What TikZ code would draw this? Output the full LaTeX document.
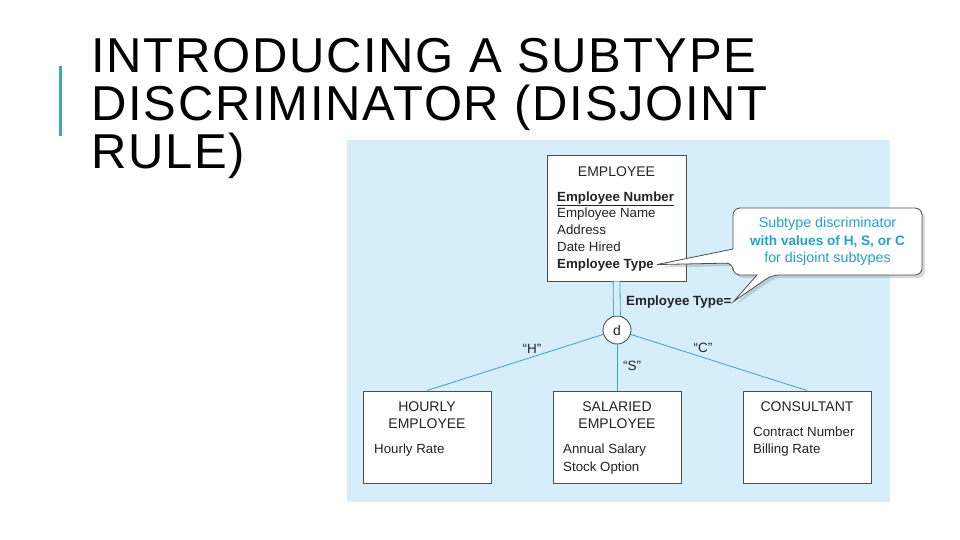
\documentclass[tikz,border=0pt]{standalone}
\usepackage{fontspec}
\setmainfont{Liberation Sans}
\newfontfamily\slidefont[LetterSpace=3.5]{Liberation Sans}
\usetikzlibrary{shadows}

\begin{document}
\begin{tikzpicture}[x=1pt,y=-1pt,
  slidetitle/.style={anchor=base west,inner sep=0pt,font=\slidefont\fontsize{49}{49}\selectfont},
  entity/.style={draw=boxline,fill=white,line width=0.9pt,inner sep=0pt},
  ename/.style={anchor=base,inner sep=0pt,font=\fontsize{14}{16}\selectfont},
  attr/.style={anchor=base west,inner sep=0pt,font=\fontsize{13.3}{15}\selectfont},
  link/.style={draw=linkblue,line width=0.8pt},
  vlabel/.style={inner sep=0pt,font=\fontsize{13.5}{15}\selectfont}]
% Define slide colours
\definecolor{accent}{RGB}{66,165,206}
\definecolor{bgblue}{RGB}{214,238,250}
\definecolor{boxline}{RGB}{75,75,80}
\definecolor{linkblue}{RGB}{62,160,200}
\definecolor{notetext}{RGB}{38,158,210}
\definecolor{ink}{RGB}{35,35,40}

\useasboundingbox[fill=white] (0,0) rectangle (960,540);

% Draw slide title
\draw[accent,line width=3pt] (60,66) -- (60,136);
\node[slidetitle] (t1) at (91,73) {INTRODUCING A SUBTYPE};
\node[slidetitle] (t2) at (91,121) {DISCRIMINATOR (DISJOINT};
\node[slidetitle] (t3) at (91,168) {RULE)};

% Draw diagram background
\fill[bgblue] (347,140) rectangle (890,502);

\begin{scope}[text=ink]
% Draw supertype
\node[entity,minimum width=139pt,minimum height=126pt] (emp) at (616.5,218) {};
\node[ename] (empname) at (616.5,176) {EMPLOYEE};
\node[attr] (enum) at (557,201) {\textbf{\underline{Employee Number}}};
\node[attr] (ename) at (557,217) {Employee Name};
\node[attr] (eaddr) at (557,234) {Address};
\node[attr] (ehired) at (557,251) {Date Hired};
\node[attr] (etype) at (557,268) {\textbf{Employee Type}};

% Draw subtypes
\node[entity,minimum width=128pt,minimum height=92pt] (hourly) at (427,437) {};
\node[entity,minimum width=128pt,minimum height=92pt] (salaried) at (617,437) {};
\node[entity,minimum width=128pt,minimum height=92pt] (consultant) at (807,437) {};

\node[ename] (h1) at (427,411) {HOURLY};
\node[ename] (h2) at (427,428) {EMPLOYEE};
\node[attr] (hrate) at (374,453) {Hourly Rate};

\node[ename] (s1) at (617,411) {SALARIED};
\node[ename] (s2) at (617,428) {EMPLOYEE};
\node[attr] (ssal) at (563,453) {Annual Salary};
\node[attr] (sopt) at (563,471) {Stock Option};

\node[ename] (c1) at (807,411) {CONSULTANT};
\node[attr] (cnum) at (753,436) {Contract Number};
\node[attr] (crate) at (753,453) {Billing Rate};

% Draw disjoint circle and links
\node[circle,draw=boxline,fill=white,line width=0.9pt,minimum size=28pt,inner sep=0pt,
  font=\fontsize{14}{16}\selectfont] (disc) at (617,330) {d};
\draw[link,double=bgblue,double distance=6pt] (emp.south) -- (disc.north);
\draw[link] (disc) -- (hourly.north);
\draw[link] (disc) -- (salaried.north);
\draw[link] (disc) -- (consultant.north);

% Add discriminator values
\node[anchor=base west,inner sep=0pt,font=\bfseries\fontsize{13.4}{15}\selectfont] (typeq) at (626,305) {Employee Type=};
\node[vlabel] (lh) at (532,349) {``H''};
\node[vlabel] (ls) at (632,366) {``S''};
\node[vlabel] (lc) at (703,348) {``C''};
\end{scope}

% Add callout
\path[fill=white,draw=boxline,line width=0.8pt,
  drop shadow={opacity=0.3,shadow xshift=3pt,shadow yshift=-3pt}]
  (828,208) [rounded corners=7pt] -- (922,208) -- (922,275) -- (772,275)
  [sharp corners] -- ([xshift=2pt]typeq.east) -- (757,275)
  [rounded corners=7pt] -- (733,275) -- (733,263)
  [sharp corners] -- ([xshift=3pt]etype.east) -- (733,249)
  [rounded corners=7pt] -- (733,208) -- cycle;
\node[align=center,inner sep=0pt,text=notetext,font=\fontsize{14.3}{17.5}\selectfont] (note) at (827.5,241.5)
  {Subtype discriminator\\ {\bfseries\fontsize{13.6}{17.5}\selectfont with values of H, S, or C}\\ for disjoint subtypes};
\end{tikzpicture}
\end{document}
